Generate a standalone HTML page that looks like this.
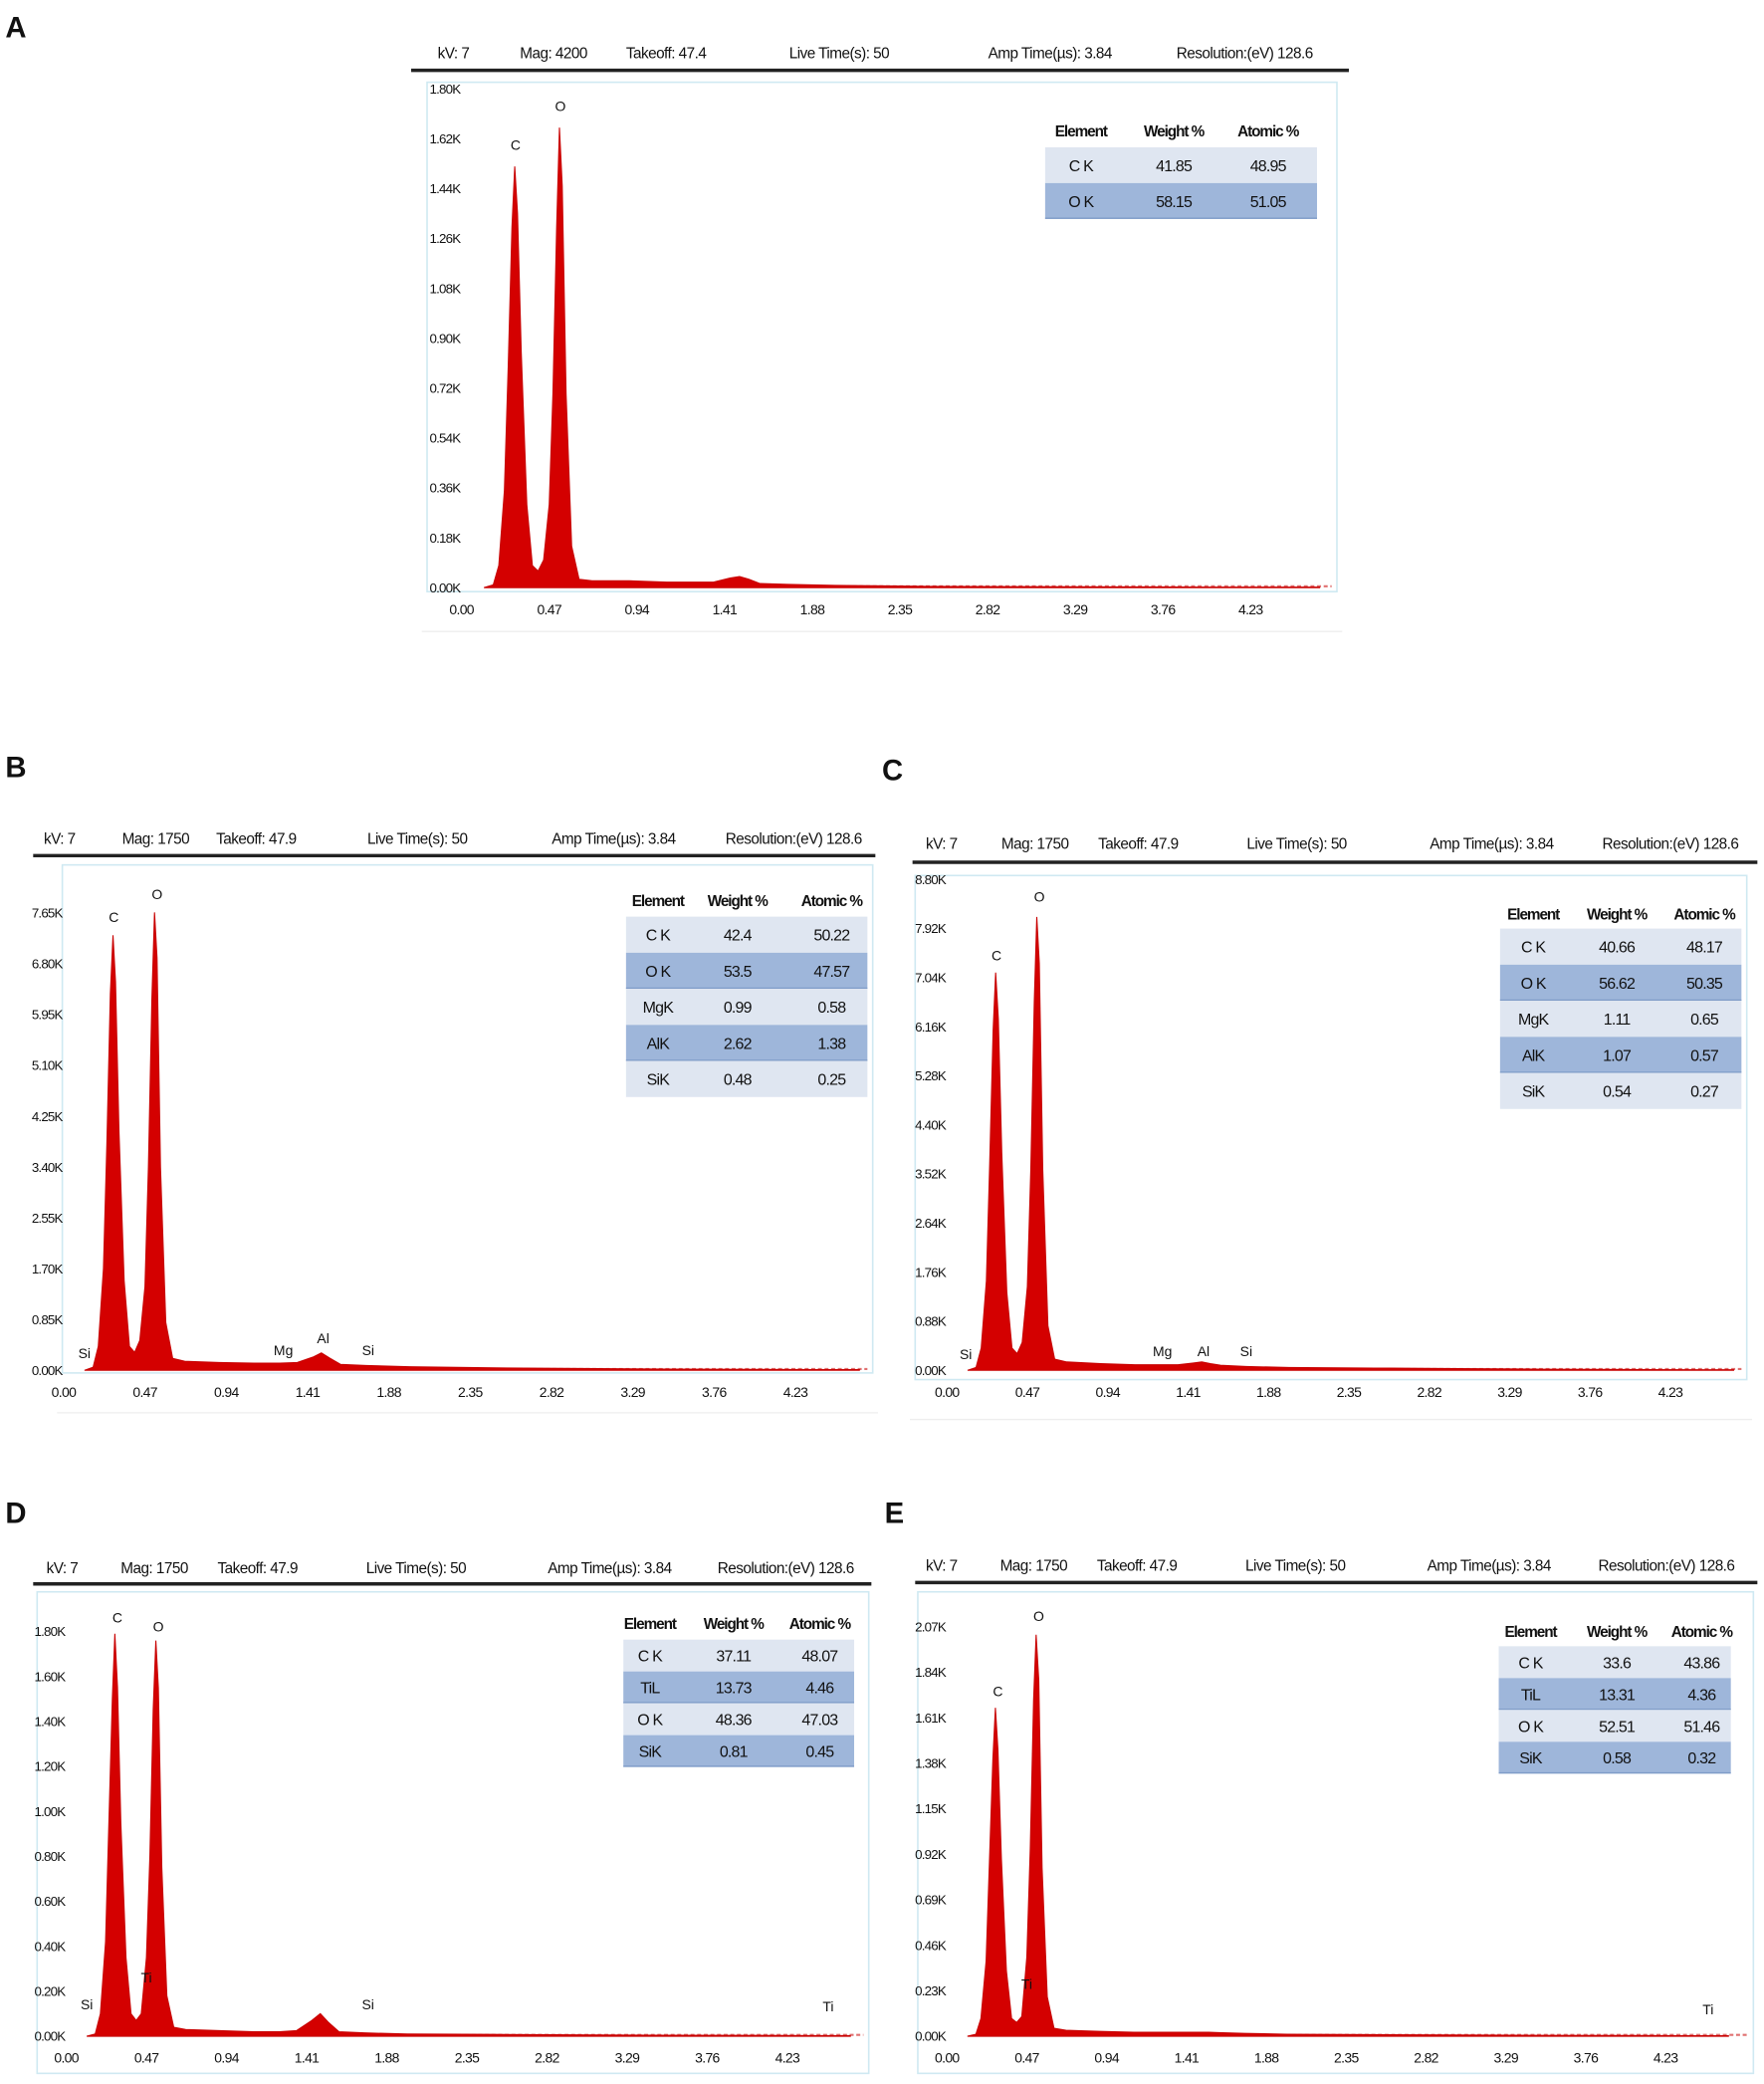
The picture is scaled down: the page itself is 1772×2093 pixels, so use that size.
<!DOCTYPE html>
<html><head><meta charset="utf-8"><style>
html,body{margin:0;padding:0;background:#fff}
svg{display:block}
text{font-family:"Liberation Sans Narrow","Liberation Sans",sans-serif;fill:#111}
</style></head>
<body>
<svg id="fig" width="1772" height="2093" viewBox="0 0 1330 1571" preserveAspectRatio="none" xmlns="http://www.w3.org/2000/svg"></svg>
<script>
// ---- data ----
const energies = [0.12,0.17,0.20,0.23,0.25,0.27,0.285,0.30,0.32,0.35,0.38,0.41,0.44,0.47,0.49,0.51,0.525,0.54,0.56,0.59,0.63,0.7,0.9,1.1,1.25,1.35,1.44,1.49,1.54,1.6,1.75,2.0,2.5,3.0,3.5,4.0,4.4,4.6];
const countsA = [0,0.01,0.08,0.35,0.8,1.3,1.52,1.35,0.85,0.3,0.08,0.06,0.1,0.3,0.7,1.3,1.66,1.45,0.7,0.15,0.03,0.025,0.025,0.02,0.02,0.02,0.035,0.04,0.03,0.015,0.012,0.008,0.005,0.004,0.003,0.002,0.002,0.002];
const countsB = [0,0.05,0.4,1.7,3.8,6.3,7.28,6.5,4.0,1.5,0.4,0.3,0.5,1.4,3.4,6.2,7.66,6.9,3.4,0.8,0.2,0.15,0.13,0.12,0.12,0.13,0.22,0.29,0.2,0.1,0.08,0.06,0.04,0.03,0.02,0.015,0.01,0.01];
const countsC = [0,0.05,0.4,1.6,3.7,6.1,7.13,6.3,3.9,1.4,0.4,0.3,0.5,1.5,3.6,6.6,8.13,7.3,3.6,0.8,0.2,0.15,0.12,0.1,0.1,0.1,0.13,0.15,0.12,0.09,0.07,0.05,0.04,0.03,0.02,0.015,0.01,0.01];
const countsD = [0,0.01,0.1,0.42,0.95,1.5,1.79,1.55,0.95,0.35,0.1,0.07,0.1,0.35,0.8,1.45,1.76,1.55,0.75,0.18,0.04,0.03,0.025,0.02,0.02,0.025,0.07,0.1,0.06,0.02,0.015,0.01,0.008,0.006,0.005,0.004,0.003,0.003];
const countsE = [0,0.01,0.09,0.38,0.88,1.4,1.66,1.45,0.9,0.33,0.09,0.07,0.1,0.4,0.95,1.7,2.03,1.8,0.85,0.2,0.04,0.03,0.025,0.02,0.02,0.02,0.02,0.02,0.02,0.018,0.015,0.01,0.008,0.006,0.005,0.004,0.003,0.003];
const xTickLabels = ["0.00","0.47","0.94","1.41","1.88","2.35","2.82","3.29","3.76","4.23"];
const yTicksA = ["0.00K","0.18K","0.36K","0.54K","0.72K","0.90K","1.08K","1.26K","1.44K","1.62K","1.80K"];
const yTicksB = ["0.00K","0.85K","1.70K","2.55K","3.40K","4.25K","5.10K","5.95K","6.80K","7.65K"];
const yTicksC = ["0.00K","0.88K","1.76K","2.64K","3.52K","4.40K","5.28K","6.16K","7.04K","7.92K","8.80K"];
const yTicksD = ["0.00K","0.20K","0.40K","0.60K","0.80K","1.00K","1.20K","1.40K","1.60K","1.80K"];
const yTicksE = ["0.00K","0.23K","0.46K","0.69K","0.92K","1.15K","1.38K","1.61K","1.84K","2.07K"];
const headerA = ["kV: 7","Mag: 4200","Takeoff: 47.4","Live Time(s): 50","Amp Time(µs): 3.84","Resolution:(eV) 128.6"];
const headerBCDE = ["kV: 7","Mag: 1750","Takeoff: 47.9","Live Time(s): 50","Amp Time(µs): 3.84","Resolution:(eV) 128.6"];
const tableA = [["C K","41.85","48.95"],["O K","58.15","51.05"]];
const tableB = [["C K","42.4","50.22"],["O K","53.5","47.57"],["MgK","0.99","0.58"],["AlK","2.62","1.38"],["SiK","0.48","0.25"]];
const tableC = [["C K","40.66","48.17"],["O K","56.62","50.35"],["MgK","1.11","0.65"],["AlK","1.07","0.57"],["SiK","0.54","0.27"]];
const tableD = [["C K","37.11","48.07"],["TiL","13.73","4.46"],["O K","48.36","47.03"],["SiK","0.81","0.45"]];
const tableE = [["C K","33.6","43.86"],["TiL","13.31","4.36"],["O K","52.51","51.46"],["SiK","0.58","0.32"]];
const peakLabelsA = [["C",0.29,1.58],["O",0.53,1.72]];
const peakLabelsB = [["Si",0.12,0.2],["C",0.29,7.5],["O",0.54,7.88],["Mg",1.27,0.25],["Al",1.50,0.45],["Si",1.76,0.25]];
const peakLabelsC = [["Si",0.11,0.2],["C",0.29,7.35],["O",0.54,8.4],["Mg",1.26,0.25],["Al",1.50,0.25],["Si",1.75,0.25]];
const peakLabelsD = [["Si",0.12,0.12],["C",0.30,1.84],["O",0.54,1.8],["Ti",0.47,0.24],["Si",1.77,0.12],["Ti",4.47,0.11]];
const peakLabelsE = [["C",0.30,1.72],["O",0.54,2.1],["Ti",0.47,0.24],["Ti",4.48,0.11]];

// ---- layout ----
const panels = [
 {id:"a",letter:"A",lx:4,ly:28,counts:countsA,yt:yTicksA,hdr:headerA,tbl:tableA,pk:peakLabelsA,
  x0:348,dx:66.1,y0:443,yStep:0.18,dy:37.6,frame:[322,62,1008,446],hy:44,ly2:53,lx1:310,lx2:1017,
  hx:[330,392,472,595,745,887],tx:[788,993],th:103,tt:111,rh:27,cols:[815,885,956],blue:[1],clipTop:62},
 {id:"b",letter:"B",lx:4,ly:586,counts:countsB,yt:yTicksB,hdr:headerBCDE,tbl:tableB,pk:peakLabelsB,
  x0:48,dx:61.3,y0:1033,yStep:0.85,dy:38.3,frame:[47,652,658,1035],hy:636,ly2:645,lx1:25,lx2:660,
  hx:[33,92,163,277,416,547],tx:[472,654],th:683,tt:691,rh:27.2,cols:[496,556,627],blue:[1,3],clipTop:652},
 {id:"c",letter:"C",lx:665,ly:588,counts:countsC,yt:yTicksC,hdr:headerBCDE,tbl:tableC,pk:peakLabelsC,
  x0:714,dx:60.6,y0:1033,yStep:0.88,dy:37,frame:[690,660,1317,1040],hy:640,ly2:650,lx1:688,lx2:1325,
  hx:[698,755,828,940,1078,1208],tx:[1131,1313],th:693,tt:700,rh:27.2,cols:[1156,1219,1285],blue:[1,3],clipTop:660},
 {id:"d",letter:"D",lx:4,ly:1148,counts:countsD,yt:yTicksD,hdr:headerBCDE,tbl:tableD,pk:peakLabelsD,
  x0:50,dx:60.4,y0:1535,yStep:0.2,dy:33.9,frame:[28,1200,655,1563],hy:1186,ly2:1194,lx1:25,lx2:657,
  hx:[35,91,164,276,413,541],tx:[470,644],th:1228,tt:1236,rh:24,cols:[490,553,618],blue:[1,3],clipTop:1200},
 {id:"e",letter:"E",lx:667,ly:1148,counts:countsE,yt:yTicksE,hdr:headerBCDE,tbl:tableE,pk:peakLabelsE,
  x0:714,dx:60.2,y0:1535,yStep:0.23,dy:34.3,frame:[692,1200,1322,1563],hy:1184,ly2:1193,lx1:690,lx2:1325,
  hx:[698,754,827,939,1076,1205],tx:[1130,1305],th:1234,tt:1241,rh:24,cols:[1154,1219,1283],blue:[1,3],clipTop:1200}
];
const NS="http://www.w3.org/2000/svg";
const svg=document.getElementById("fig");
function mk(tag,attrs,parent,txt){const e=document.createElementNS(NS,tag);for(const k in attrs)e.setAttribute(k,attrs[k]);if(txt!==undefined)e.textContent=txt;(parent||svg).appendChild(e);return e;}

panels.forEach(p=>{
  const xs=e=>p.x0+e/0.47*p.dx;
  const ys=c=>p.y0-c/p.yStep*p.dy;
  const g=mk("g",{});
  
  
  const L=mk("text",{x:p.lx,y:p.ly,"font-size":22,"font-weight":"bold",style:"font-family:'Liberation Sans',sans-serif"},g,p.letter);
  
  
  p.hdr.forEach((h,i)=>{
    const t=mk("text",{x:p.hx[i],y:p.hy,"font-size":11.5,"letter-spacing":"-0.4"},g,h);
    
    
  });
  const hl=mk("line",{x1:p.lx1,x2:p.lx2,y1:p.ly2,y2:p.ly2,stroke:"#222","stroke-width":2.6},g);
  
  
  const f=p.frame;
  const fr=mk("rect",{x:f[0],y:f[1],width:f[2]-f[0],height:f[3]-f[1],fill:"none",stroke:"#cfe9f2","stroke-width":1.2},g);
  
  
  mk("line",{x1:f[0]-4,x2:f[2]+4,y1:f[3]+30,y2:f[3]+30,stroke:"#eee","stroke-width":1},g);
  p.yt.forEach((lab,i)=>{
    const y=ys(i*p.yStep);
    if(y<p.clipTop-2) return;
    const t=mk("text",{x:p.x0-1,y:y+3.5,"font-size":10,"text-anchor":"end","letter-spacing":"-0.6",fill:"#333"},g,lab);
    
    
  });
  xTickLabels.forEach((lab,i)=>{
    const t=mk("text",{x:xs(i*0.47),y:p.y0+20,"font-size":10.5,"text-anchor":"middle","letter-spacing":"-0.5",fill:"#333"},g,lab);
    
    
  });
  const bl=mk("line",{x1:xs(1.6),x2:f[2]-4,y1:p.y0-1,y2:p.y0-1,stroke:"#e07070","stroke-width":1.6,"stroke-dasharray":"3 2"},g);
  
  
  let d="M"+xs(energies[0])+","+ys(0);
  energies.forEach((e,i)=>{d+=" L"+xs(e).toFixed(1)+","+ys(p.counts[i]).toFixed(1);});
  d+=" L"+xs(energies[energies.length-1])+","+ys(0)+" Z";
  const sp=mk("path",{d:d,fill:"#d40000",stroke:"#c80000","stroke-width":0.8},g);
  
  
  p.pk.forEach(k=>{
    const t=mk("text",{x:xs(k[1]),y:ys(k[2]),"font-size":10.5,"text-anchor":"middle"},g,k[0]);
    
    
  });
  const tw=p.tx[1]-p.tx[0];
  ["Element","Weight %","Atomic %"].forEach((h,i)=>{
    const t=mk("text",{x:p.cols[i],y:p.th,"font-size":11.5,"font-weight":"bold","text-anchor":"middle","letter-spacing":"-0.8"},g,h);
    
    
  });
  p.tbl.forEach((row,r)=>{
    const y=p.tt+r*p.rh;
    const blue=p.blue.indexOf(r)>=0;
    const rc=mk("rect",{x:p.tx[0],y:y,width:tw,height:p.rh,fill:blue?"#9eb6da":"#dfe6f1"},g);
    
    
    if(blue) mk("line",{x1:p.tx[0],x2:p.tx[1],y1:y+p.rh-0.5,y2:y+p.rh-0.5,stroke:"#7f9cc8","stroke-width":1},g);
    row.forEach((v,i)=>{
      const t=mk("text",{x:p.cols[i],y:y+p.rh/2+4.5,"font-size":12,"text-anchor":"middle","letter-spacing":"-0.6"},g,v);
      
      
    });
  });
});
</script>
</body></html>
